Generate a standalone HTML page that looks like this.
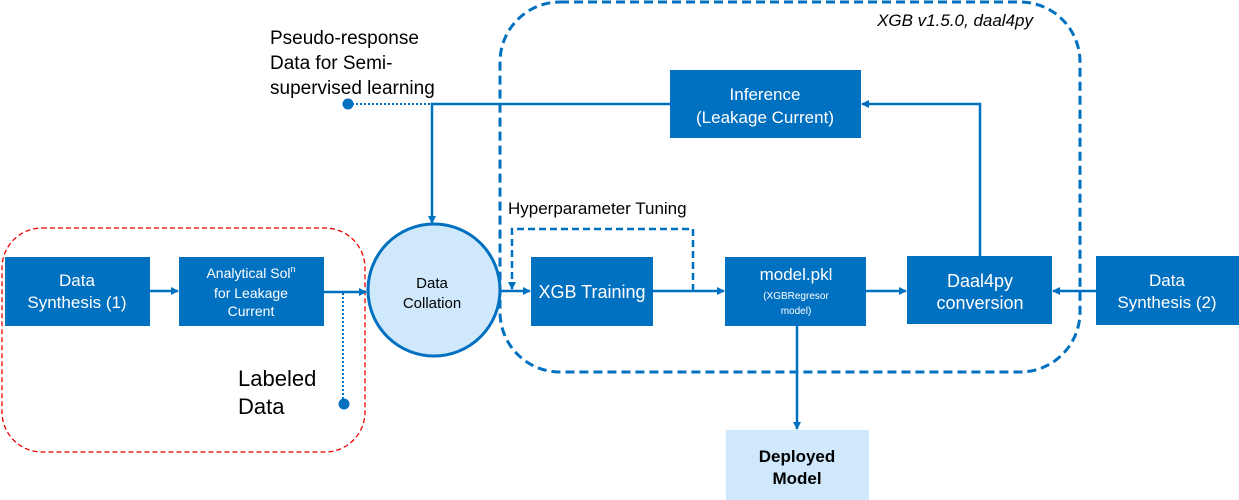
<!DOCTYPE html>
<html><head><meta charset="utf-8"><style>
html,body{margin:0;padding:0;background:#fff;}
svg{display:block;font-family:"Liberation Sans",sans-serif;}
</style></head><body>
<svg width="1239" height="500" viewBox="0 0 1239 500" xmlns="http://www.w3.org/2000/svg">
<defs>
<marker id="a" markerWidth="8" markerHeight="8" refX="7" refY="4" orient="auto" markerUnits="userSpaceOnUse"><path d="M0,0 L8,4 L0,8 z" fill="#0070c0"/></marker>
</defs>
<rect x="2" y="228" width="363" height="224" rx="40" fill="none" stroke="#e00" stroke-width="1.3" stroke-dasharray="5,3"/>
<rect x="500" y="2" width="580" height="370" rx="60" fill="none" stroke="#0070c0" stroke-width="3" stroke-dasharray="9,5"/>
<g fill="#0070c0">
<rect x="5" y="257" width="145" height="69"/>
<rect x="179" y="257" width="145" height="69"/>
<rect x="531" y="257" width="122" height="69"/>
<rect x="725" y="257" width="141" height="69"/>
<rect x="907" y="256" width="145" height="68"/>
<rect x="1096" y="256" width="143" height="69"/>
<rect x="670" y="70" width="191" height="68"/>
</g>
<rect x="726" y="430" width="143" height="70" fill="#cfe8fb"/>
<circle cx="434" cy="290" r="66" fill="#cfe8fb" stroke="#0070c0" stroke-width="3"/>
<g stroke="#0070c0" stroke-width="2.5" fill="none">
<line x1="150" y1="291" x2="178" y2="291" marker-end="url(#a)"/>
<line x1="324" y1="292" x2="366" y2="292" marker-end="url(#a)"/>
<line x1="501" y1="291" x2="530" y2="291" marker-end="url(#a)"/>
<line x1="653" y1="291" x2="724" y2="291" marker-end="url(#a)"/>
<line x1="866" y1="291" x2="906" y2="291" marker-end="url(#a)"/>
<line x1="1096" y1="291" x2="1053" y2="291" marker-end="url(#a)"/>
<polyline points="980,256 980,104 862,104" marker-end="url(#a)"/>
<polyline points="670,104 432,104 432,223" marker-end="url(#a)"/>
<line x1="797" y1="326" x2="797" y2="429" marker-end="url(#a)"/>
<polyline points="693,291 693,229 512,229 512,289" stroke-dasharray="7,4" marker-end="url(#a)"/>
</g>
<g stroke="#0070c0" stroke-width="2" stroke-dasharray="2,2" fill="none">
<line x1="348" y1="104" x2="432" y2="104"/>
<line x1="343" y1="293" x2="343" y2="403"/>
</g>
<circle cx="348" cy="104" r="5.5" fill="#0070c0"/>
<circle cx="344" cy="404" r="5.5" fill="#0070c0"/>
<g fill="#fff" text-anchor="middle">
<text x="77" y="286" font-size="17">Data</text>
<text x="77" y="308" font-size="17">Synthesis (1)</text>
<text x="251" y="278" font-size="14">Analytical Sol<tspan font-size="9" dy="-6">n</tspan></text>
<text x="251" y="298" font-size="14">for Leakage</text>
<text x="251" y="316" font-size="14">Current</text>
<text x="592" y="298" font-size="18">XGB Training</text>
<text x="796" y="280" font-size="17">model.pkl</text>
<text x="796" y="299" font-size="10">(XGBRegresor</text>
<text x="796" y="314" font-size="10">model)</text>
<text x="980" y="287" font-size="18">Daal4py</text>
<text x="980" y="309" font-size="18">conversion</text>
<text x="1167" y="286" font-size="17">Data</text>
<text x="1167" y="308" font-size="17">Synthesis (2)</text>
<text x="765" y="100" font-size="17">Inference</text>
<text x="765" y="123" font-size="17">(Leakage Current)</text>
</g>
<g fill="#000">
<text x="432" y="288" font-size="15" text-anchor="middle">Data</text>
<text x="432" y="308" font-size="15" text-anchor="middle">Collation</text>
<text x="797" y="462" font-size="17" font-weight="bold" text-anchor="middle">Deployed</text>
<text x="797" y="484" font-size="17" font-weight="bold" text-anchor="middle">Model</text>
<text x="1033" y="26" font-size="17" font-style="italic" text-anchor="end">XGB v1.5.0, daal4py</text>
<text x="270" y="44" font-size="19">Pseudo-response</text>
<text x="270" y="69" font-size="19">Data for Semi-</text>
<text x="270" y="94" font-size="19">supervised  learning</text>
<text x="238" y="386" font-size="22">Labeled</text>
<text x="238" y="414" font-size="22">Data</text>
<text x="508" y="214" font-size="17">Hyperparameter Tuning</text>
</g>
</svg>
</body></html>
